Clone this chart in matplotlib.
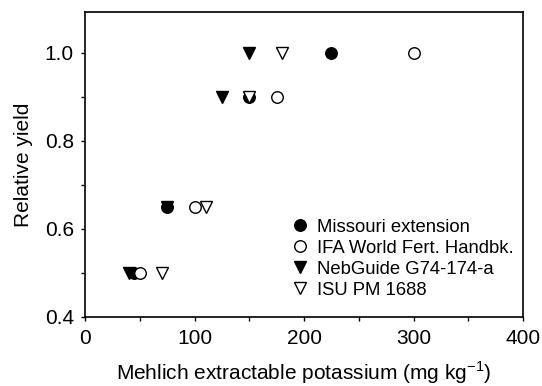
import matplotlib
matplotlib.use("Agg")
import matplotlib.pyplot as plt
from matplotlib.ticker import MultipleLocator, FormatStrFormatter

plt.rcParams['font.family'] = ['Liberation Sans', 'DejaVu Sans']

missouri_x = [45, 75, 150, 225]
missouri_y = [0.5, 0.65, 0.9, 1.0]
ifa_x = [50, 100, 175, 300]
ifa_y = [0.5, 0.65, 0.9, 1.0]
neb_x = [40, 75, 125, 150]
neb_y = [0.5, 0.65, 0.9, 1.0]
isu_x = [70, 110, 150, 180]
isu_y = [0.5, 0.65, 0.9, 1.0]

fig = plt.figure(figsize=(5.42, 3.86), dpi=100)
ax = fig.add_axes([0.157, 0.179, 0.808, 0.790])

ms = 8.3
ax.plot(missouri_x, missouri_y, 'o', color='black', markersize=ms, linestyle='none', label='Missouri extension')
ax.plot(ifa_x, ifa_y, 'o', markerfacecolor='white', markeredgecolor='black', markeredgewidth=1.0,
        markersize=ms, linestyle='none', label='IFA World Fert. Handbk.')
ax.plot(neb_x, neb_y, 'v', color='black', markersize=ms + 0.7, linestyle='none', label='NebGuide G74-174-a')
ax.plot(isu_x, isu_y, 'v', markerfacecolor='white', markeredgecolor='black', markeredgewidth=1.0,
        markersize=ms + 0.7, linestyle='none', label='ISU PM 1688')

ax.set_xlim(0, 400)
ax.set_ylim(0.4, 1.093)
ax.xaxis.set_major_locator(MultipleLocator(100))
ax.xaxis.set_minor_locator(MultipleLocator(50))
ax.yaxis.set_major_locator(MultipleLocator(0.2))
ax.yaxis.set_minor_locator(MultipleLocator(0.1))
ax.yaxis.set_major_formatter(FormatStrFormatter('%.1f'))
ax.tick_params(which='both', direction='out', length=3, width=1, labelsize=15)
ax.tick_params(axis='x', pad=6)
ax.tick_params(axis='y', pad=5)
for s in ax.spines.values():
    s.set_linewidth(1.2)

ax.set_xlabel('Mehlich extractable potassium (mg kg$^{\\mathregular{-1}}$)', fontsize=15, labelpad=7.8)
ax.set_ylabel('Relative yield', fontsize=15, labelpad=8.5)

ax.legend(loc='lower right', bbox_to_anchor=(1.0, 0.03), frameon=False, fontsize=13.3,
          handletextpad=0.45, labelspacing=0.21, handlelength=1.0, borderaxespad=0.1)

fig.savefig('out.png', dpi=100)
